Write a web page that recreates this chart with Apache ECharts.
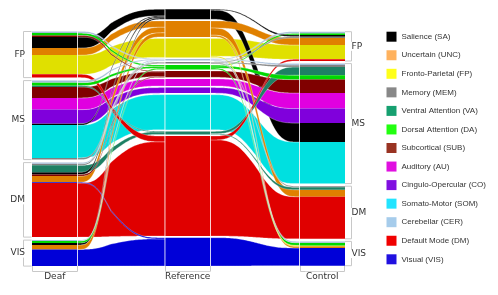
<!DOCTYPE html>
<html><head><meta charset="utf-8">
<script src="https://cdn.jsdelivr.net/npm/echarts@6/dist/echarts.min.js"></script>
<style>html,body{margin:0;padding:0;background:#fff}#c{width:498px;height:295px}</style>
</head><body><div id="c"></div>
<script>
// ---------------- data ----------------
const networks = ['SA','UNC','FP','MEM','VA','DA','SUB','AU','CO','SOM','CER','DM','VIS'];
const networkNames = ['Salience (SA)','Uncertain (UNC)','Fronto-Parietal (FP)','Memory (MEM)','Ventral Attention (VA)','Dorsal Attention (DA)','Subcortical (SUB)','Auditory (AU)','Cingulo-Opercular (CO)','Somato-Motor (SOM)','Cerebellar (CER)','Default Mode (DM)','Visual (VIS)'];
const flowColors = ['#000000','#e08000','#e0e000','#808080','#1e8064','#00d800','#800000','#e000e0','#8000dc','#00e0e0','#a4bcd8','#e00000','#0000d8'];
const legendColors = ['#000000','#ffb25e','#ffff1a','#888888','#16a070','#22ff10','#993322','#e010e0','#8010e0','#22e4ff','#a6cceb','#f00000','#2010e0'];
const modules = ['FP','MS','DM','VIS'];
const columnNames = ['Deaf','Reference','Control'];

// Deaf modules: [network, size]
const deafFP  = [['CER',1.6],['DA',2.4],['SUB',1.6],['SA',11],['UNC',7],['FP',19.2],['DM',3.3]];
const deafMS  = [['CER',2],['DA',3],['VA',1.3],['SUB',11],['AU',11.7],['CO',14],['SA',1.5],['SOM',32.8],['MEM',1.7]];
const deafDM  = [['CER',1.2],['MEM',1.5],['VA',7],['SA',2.2],['SUB',1.6],['UNC',6.2],['VIS',0.8],['DM',54]];
const deafVIS = [['CER',0.8],['DA',2],['SA',2],['UNC',4.5],['VIS',16.7]];
// Control modules
const controlFP  = [['CER',1.6],['DA',1.7],['SA',1.7],['MEM',1.3],['UNC',7],['FP',14.3],['DM',1.7]];
const controlMS  = [['CER',1.5],['MEM',1.9],['VA',8.3],['DA',4.3],['SUB',13.4],['AU',15.6],['CO',14.4],['SA',19],['SOM',41.6]];
const controlDM  = [['MEM',1],['VA',2.5],['UNC',7],['DM',42.1]];
const controlVIS = [['CER',1.3],['DA',2.7],['FP',0.9],['UNC',1.7],['VIS',17.7]];
// Reference column
const refOrder  = ['SA','UNC','FP','CER','MEM','DA','SUB','AU','CO','SOM','VA','DM','VIS'];
const refValues = [10,16,18.8,1.4,1.4,4.3,6.3,7,5.5,35,3,100,28.3];

// ---------------- layout parameters ----------------
const COL_X = [[32,77.5],[165,210.5],[299.5,345]];
const SIDE_TOP = [31.5, 31.7], SIDE_GAP = [3, 2.6];
const REF_TOP = 9.3, REF_GAP = 1.64;
const CURVE_CENTER = [0.38, 0.52];

function stackSide(mods, top, gap) {
  const out = []; let y = top;
  mods.forEach((m, mi) => {
    const start = y, stripes = [];
    m.forEach(([net, v]) => { stripes.push({net, y0: y, y1: y + v, v}); y += v; });
    out.push({name: modules[mi], y0: start, y1: y, stripes});
    y += gap;
  });
  return out;
}
const deafLayout = stackSide([deafFP, deafMS, deafDM, deafVIS], SIDE_TOP[0], SIDE_GAP[0]);
const ctrlLayout = stackSide([controlFP, controlMS, controlDM, controlVIS], SIDE_TOP[1], SIDE_GAP[1]);
let ry = REF_TOP;
const refLayout = refOrder.map((net, i) => { const b = {net, y0: ry, y1: ry + refValues[i]}; ry += refValues[i] + REF_GAP; return b; });

const items = {}; networks.forEach(n => items[n] = []);
const allFlows = [];
function addFlows(sideLayout, sideIdx) {
  refLayout.forEach(b => {
    const stripes = [];
    sideLayout.forEach(m => m.stripes.forEach(s => { if (s.net === b.net) stripes.push(s); }));
    const tot = stripes.reduce((a, s) => a + s.v, 0);
    if (!tot) return;
    let cur = b.y0; const H = b.y1 - b.y0;
    stripes.forEach(s => {
      const h = s.v / tot * H;
      const f = sideIdx === 0
        ? {type:'flow', x0: COL_X[0][1], x1: COL_X[1][0], a0: s.y0, a1: s.y1, b0: cur, b1: cur + h, c: CURVE_CENTER[0]}
        : {type:'flow', x0: COL_X[1][1], x1: COL_X[2][0], a0: cur, a1: cur + h, b0: s.y0, b1: s.y1, c: CURVE_CENTER[1]};
      f.size = (s.v + h) / 2; f.net = b.net;
      allFlows.push(f);
      cur += h;
    });
  });
}
addFlows(deafLayout, 0);
addFlows(ctrlLayout, 1);
allFlows.sort((p, q) => q.size - p.size);
allFlows.forEach((f, i) => { f.z2 = 10 + i; items[f.net].push(f); });
[[deafLayout, 0], [ctrlLayout, 2]].forEach(([lay, ci]) => lay.forEach(m => m.stripes.forEach(s => {
  items[s.net].push({type:'rect', x0: COL_X[ci][0], x1: COL_X[ci][1], y0: s.y0, y1: s.y1, z2: 5000});
})));
refLayout.forEach(b => items[b.net].push({type:'rect', x0: COL_X[1][0], x1: COL_X[1][1], y0: b.y0, y1: b.y1, z2: 5000}));

function ss(t) { return t * t * (3 - 2 * t); }
function curve(s, c) { const g = s < c ? 0.5 * s / c : 0.5 + 0.5 * (s - c) / (1 - c); return ss(ss(g)); }
function fixThin(a, b, m) { if (b - a < m) { const mid = (a + b) / 2; return [mid - m / 2, mid + m / 2]; } return [a, b]; }

function renderNet(list) {
  return function (params, api) {
    const it = list[params.dataIndex];
    const color = api.visual('color');
    if (it.type === 'rect') {
      const p0 = api.coord([it.x0, it.y0]), p1 = api.coord([it.x1, it.y1]);
      return {type:'rect', z2: it.z2, shape:{x:p0[0], y:p0[1], width:p1[0]-p0[0], height:p1[1]-p0[1]}, style:{fill: color}};
    }
    const [a0, a1] = fixThin(it.a0, it.a1, 0.8), [b0, b1] = fixThin(it.b0, it.b1, 0.8);
    const N = 60, top = [], bot = [];
    for (let i = 0; i <= N; i++) {
      const s = i / N, f = curve(s, it.c), x = it.x0 + s * (it.x1 - it.x0);
      top.push(api.coord([x, a0 + (b0 - a0) * f]));
      bot.push(api.coord([x, a1 + (b1 - a1) * f]));
    }
    return {type:'polygon', z2: it.z2, shape:{points: top.concat(bot.reverse())},
      style:{fill: color, stroke:'rgba(255,255,255,0.55)', lineWidth: 0.5}};
  };
}

// ---------------- annotations ----------------
const ann = [];
const BR = '#c8c8c8', LINE_W = 'rgba(255,255,255,0.75)';
const colTop = [deafLayout[0].y0, refLayout[0].y0, ctrlLayout[0].y0];
const BRK_Y0 = 266, BRK_Y1 = 271.5, LABEL_Y = 276.3;
ann.push({kind:'line', x1: COL_X[0][1], y1: colTop[0], x2: COL_X[0][1], y2: BRK_Y0, color: LINE_W});
ann.push({kind:'line', x1: COL_X[1][0], y1: colTop[1], x2: COL_X[1][0], y2: BRK_Y0, color: LINE_W});
ann.push({kind:'line', x1: COL_X[1][1], y1: colTop[1], x2: COL_X[1][1], y2: BRK_Y0, color: LINE_W});
ann.push({kind:'line', x1: COL_X[2][0], y1: colTop[2], x2: COL_X[2][0], y2: BRK_Y0, color: LINE_W});
COL_X.forEach((cx, i) => {
  const l = Math.round(cx[0]) + 0.5, r = Math.round(cx[1]) - 0.5;
  ann.push({kind:'line', x1: l, y1: BRK_Y0, x2: l, y2: BRK_Y1, color: BR});
  ann.push({kind:'line', x1: r, y1: BRK_Y0, x2: r, y2: BRK_Y1, color: BR});
  ann.push({kind:'line', x1: l, y1: BRK_Y1, x2: r, y2: BRK_Y1, color: BR});
  ann.push({kind:'text', x: (cx[0] + cx[1]) / 2, y: LABEL_Y, text: columnNames[i], align:'center'});
});
deafLayout.forEach(m => {
  const bx = 23.5, ex = COL_X[0][0] - 0.5;
  ann.push({kind:'line', x1: bx, y1: m.y0, x2: bx, y2: m.y1, color: BR});
  ann.push({kind:'line', x1: bx, y1: m.y0, x2: ex, y2: m.y0, color: BR});
  ann.push({kind:'line', x1: bx, y1: m.y1, x2: ex, y2: m.y1, color: BR});
  ann.push({kind:'text', x: 26, y: (m.y0 + m.y1) / 2, text: m.name, align:'right'});
});
ctrlLayout.forEach(m => {
  const bx = 351.5, ex = COL_X[2][1];
  ann.push({kind:'line', x1: bx, y1: m.y0, x2: bx, y2: m.y1, color: BR});
  ann.push({kind:'line', x1: ex, y1: m.y0, x2: bx, y2: m.y0, color: BR});
  ann.push({kind:'line', x1: ex, y1: m.y1, x2: bx, y2: m.y1, color: BR});
  ann.push({kind:'text', x: 350.5, y: (m.y0 + m.y1) / 2, text: m.name, align:'left'});
});
function renderAnn(params, api) {
  const a = ann[params.dataIndex];
  if (a.kind === 'line') {
    const p = api.coord([a.x1, a.y1]), q = api.coord([a.x2, a.y2]);
    return {type:'line', z2: 1, shape:{x1:p[0], y1:p[1], x2:q[0], y2:q[1]}, style:{stroke: a.color, lineWidth: 1}};
  }
  const p = api.coord([a.x, a.y]);
  return {type:'text', z2: 10, x: p[0], y: p[1], style:{text: a.text, fill:'#333', font:'9px "DejaVu Sans"',
    align: a.align, verticalAlign:'middle', backgroundColor:'#fff', padding:[0,1]}};
}

// ---------------- chart ----------------
const chart = echarts.init(document.getElementById('c'), null, {renderer:'canvas'});
const series = networks.map((n, i) => ({
  type:'custom', name: networkNames[i], coordinateSystem:'cartesian2d', clip:false,
  itemStyle:{color: flowColors[i]}, renderItem: renderNet(items[n]),
  data: items[n].map(() => [0, 0]), animation:false, silent:true
}));
series.push({type:'custom', name:'annotations', coordinateSystem:'cartesian2d', clip:false, z: 5,
  renderItem: renderAnn, data: ann.map(() => [0, 0]), animation:false, silent:true});
chart.setOption({
  animation:false,
  grid:{left:0, right:0, top:0, bottom:0},
  xAxis:{type:'value', min:0, max:498, show:false},
  yAxis:{type:'value', min:0, max:295, inverse:true, show:false},
  legend:{orient:'vertical', left:386.5, top:31.7, padding:0, itemWidth:10, itemHeight:10, itemGap:8.55, icon:'rect',
    selectedMode:false, textStyle:{fontSize:8, lineHeight:10, fontFamily:'"Liberation Sans", Arial, sans-serif', color:'#333'},
    data: networkNames.map((n, i) => ({name:n, itemStyle:{color: legendColors[i]}}))},
  series
});
</script></body></html>
